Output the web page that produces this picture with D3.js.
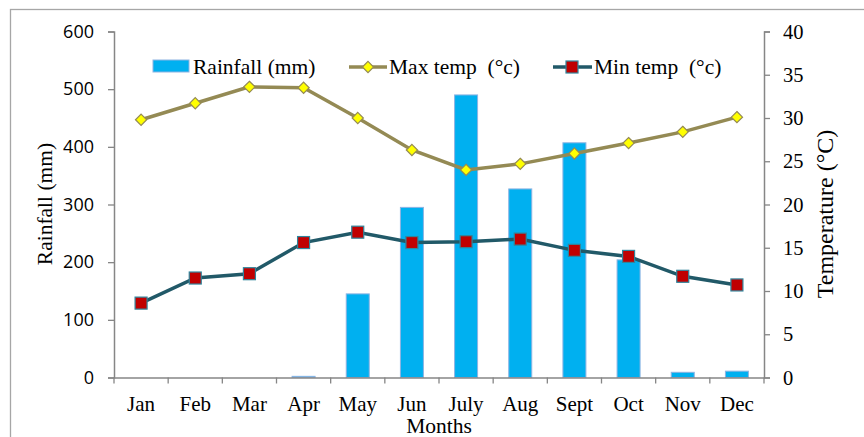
<!DOCTYPE html>
<html>
<head>
<meta charset="utf-8">
<script src="https://cdn.jsdelivr.net/npm/d3@7"></script>
<style>
  html, body { margin: 0; padding: 0; background: #fff; }
  svg { display: block; }
</style>
</head>
<body>
<svg id="chart" width="864" height="437"></svg>
<script>
// Monthly climate data
const months = ["Jan", "Feb", "Mar", "Apr", "May", "Jun", "July", "Aug", "Sept", "Oct", "Nov", "Dec"];
const rainfall = [0, 0, 0, 2, 145, 295, 490, 327, 407, 204, 9, 11];
const maxTemp = [29.8, 31.7, 33.6, 33.5, 30.0, 26.3, 24.0, 24.7, 25.9, 27.1, 28.4, 30.1];
const minTemp = [8.6, 11.5, 12.0, 15.6, 16.8, 15.6, 15.7, 16.0, 14.7, 14.0, 11.7, 10.7];
const rainTicks = [0, 100, 200, 300, 400, 500, 600];
const tempTicks = [0, 5, 10, 15, 20, 25, 30, 35, 40];

const svg = d3.select("#chart");
const plot = { left: 114, right: 764, top: 31.5, bottom: 377.5 };
const axisColor = "#868686";
const serif = "'Liberation Serif', 'Times New Roman', serif";
const sans = "'Open Sans', 'Noto Sans', sans-serif";

// Outer frame
svg.append("rect")
  .attr("x", 10.5).attr("y", 9.5).attr("width", 900).attr("height", 500)
  .attr("fill", "none").attr("stroke", "#a6a6a6").attr("stroke-width", 1.3);

const x = d3.scaleBand().domain(months).range([plot.left, plot.right]).paddingInner(0).paddingOuter(0);
const yRain = d3.scaleLinear().domain([0, 600]).range([plot.bottom, plot.top]);
const yTemp = d3.scaleLinear().domain([0, 40]).range([plot.bottom, plot.top]);

// Rainfall bars
svg.append("g").selectAll("rect").data(rainfall).join("rect")
  .attr("x", (d, i) => x(months[i]) + x.bandwidth() / 2 - 11.5)
  .attr("width", 23)
  .attr("y", d => yRain(d))
  .attr("height", d => plot.bottom - yRain(d))
  .attr("fill", "#00B0F0")
  .attr("stroke", d => d > 0 ? "#8db3e2" : "none")
  .attr("stroke-width", 1);

// Left axis
const gL = svg.append("g").attr("transform", `translate(${plot.left},0)`)
  .call(d3.axisLeft(yRain).tickValues(rainTicks).tickSize(6).tickPadding(14));
gL.select(".domain").attr("stroke", axisColor).attr("stroke-width", 1.5);
gL.selectAll(".tick line").attr("stroke", axisColor).attr("stroke-width", 1.3);
gL.selectAll(".tick text").attr("font-family", sans).attr("font-size", 18).attr("fill", "#000");

// Right axis
const gR = svg.append("g").attr("transform", `translate(${plot.right},0)`)
  .call(d3.axisRight(yTemp).tickValues(tempTicks).tickSize(6).tickPadding(13));
gR.select(".domain").attr("stroke", axisColor).attr("stroke-width", 1.5);
gR.selectAll(".tick line").attr("stroke", axisColor).attr("stroke-width", 1.3);
gR.selectAll(".tick text").attr("font-family", serif).attr("font-size", 20.5).attr("fill", "#000");

// Bottom axis with ticks at category boundaries
const gB = svg.append("g").attr("transform", `translate(0,${plot.bottom})`)
  .call(d3.axisBottom(x).tickSize(0).tickPadding(0));
gB.select(".domain").attr("stroke", axisColor).attr("stroke-width", 1.5);
gB.selectAll(".tick text")
  .attr("dy", null).attr("y", 33.5)
  .attr("font-family", serif).attr("font-size", 21).attr("fill", "#000");
gB.selectAll("line.bound").data(d3.range(months.length + 1)).join("line")
  .attr("class", "bound")
  .attr("x1", i => plot.left + i * x.bandwidth()).attr("x2", i => plot.left + i * x.bandwidth())
  .attr("y1", 0).attr("y2", 6)
  .attr("stroke", axisColor).attr("stroke-width", 1.3);

// Temperature lines
const cx = i => x(months[i]) + x.bandwidth() / 2;
const line = d3.line().x((d, i) => cx(i)).y(d => yTemp(d));

svg.append("path").datum(maxTemp).attr("d", line)
  .attr("fill", "none").attr("stroke", "#948A54").attr("stroke-width", 3.5);
svg.append("path").datum(minTemp).attr("d", line)
  .attr("fill", "none").attr("stroke", "#215968").attr("stroke-width", 3.5);

const diamond = d3.symbol().type(d3.symbolDiamond2).size(80);
svg.append("g").selectAll("path").data(maxTemp).join("path")
  .attr("transform", (d, i) => `translate(${cx(i)},${yTemp(d)})`)
  .attr("d", diamond)
  .attr("fill", "#FFFF00").attr("stroke", "#948A54").attr("stroke-width", 1.2);

svg.append("g").selectAll("rect").data(minTemp).join("rect")
  .attr("x", (d, i) => cx(i) - 6).attr("y", d => yTemp(d) - 6)
  .attr("width", 12).attr("height", 12)
  .attr("fill", "#C00000").attr("stroke", "#31859C").attr("stroke-width", 1.2);

// Legend
const lg = svg.append("g").attr("font-family", serif).attr("font-size", 21.5).attr("fill", "#000");
lg.append("rect").attr("x", 153).attr("y", 60).attr("width", 36).attr("height", 12)
  .attr("fill", "#00B0F0").attr("stroke", "#8db3e2");
lg.append("text").attr("x", 193).attr("y", 74).text("Rainfall (mm)");

lg.append("line").attr("x1", 349).attr("x2", 387).attr("y1", 67).attr("y2", 67)
  .attr("stroke", "#948A54").attr("stroke-width", 3.5);
lg.append("path").attr("transform", "translate(368,67)").attr("d", diamond)
  .attr("fill", "#FFFF00").attr("stroke", "#948A54").attr("stroke-width", 1.2);
lg.append("text").attr("x", 389).attr("y", 74).attr("xml:space", "preserve").text("Max temp  (°c)");

lg.append("line").attr("x1", 553).attr("x2", 592).attr("y1", 67).attr("y2", 67)
  .attr("stroke", "#215968").attr("stroke-width", 3.5);
lg.append("rect").attr("x", 566).attr("y", 61).attr("width", 12).attr("height", 12)
  .attr("fill", "#C00000").attr("stroke", "#31859C").attr("stroke-width", 1.2);
lg.append("text").attr("x", 594).attr("y", 74).attr("xml:space", "preserve").text("Min temp  (°c)");

// Axis titles
svg.append("text")
  .attr("transform", "translate(52,204) rotate(-90)")
  .attr("text-anchor", "middle").attr("font-family", serif).attr("font-size", 21.5)
  .text("Rainfall (mm)");
svg.append("text")
  .attr("transform", "translate(833,214) rotate(-90)")
  .attr("text-anchor", "middle").attr("font-family", serif).attr("font-size", 24)
  .text("Temperature (°C)");
svg.append("text")
  .attr("x", 439).attr("y", 433)
  .attr("text-anchor", "middle").attr("font-family", serif).attr("font-size", 21.5)
  .text("Months");
</script>
</body>
</html>
